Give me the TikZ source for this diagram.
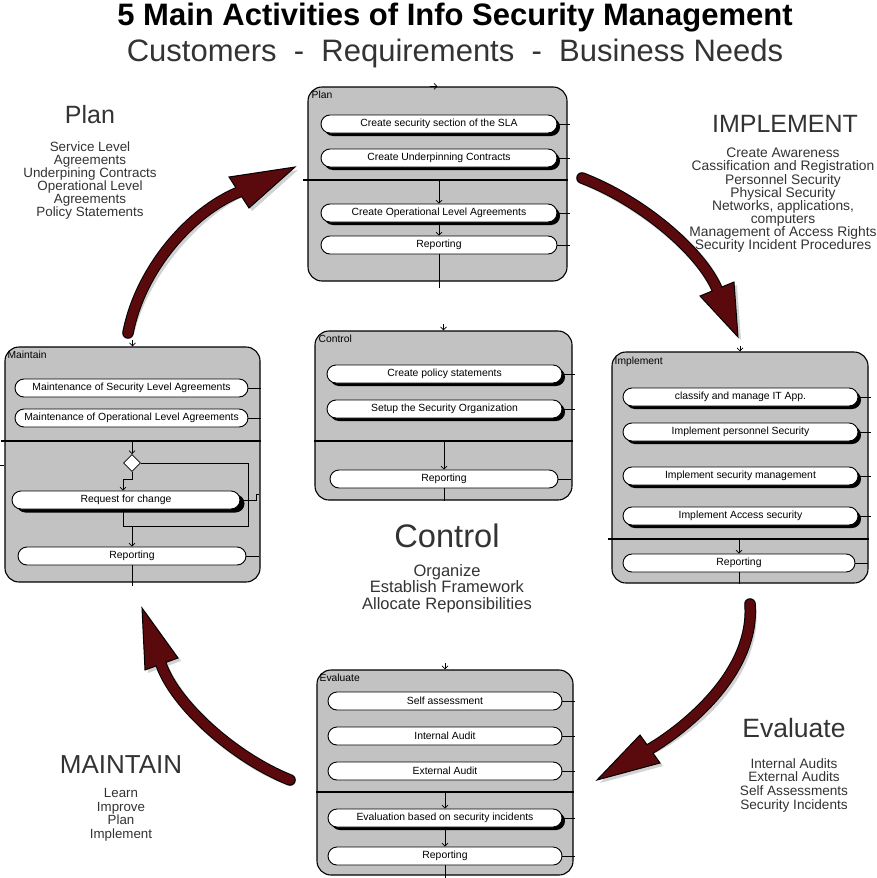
\documentclass[tikz,border=0pt]{standalone}
\usepackage{fontspec}
\setmainfont{Liberation Sans}
\usetikzlibrary{shapes.geometric,shadows,arrows.meta}
\definecolor{boxgray}{HTML}{C2C2C2}
\definecolor{arrowred}{HTML}{5A0A0C}
\definecolor{headgray}{HTML}{333333}
\newcommand{\redarrow}[7]{%
  \begin{scope}[shift={(3,3)}]
    \draw[line width=12pt, gray!35, line cap=round] #1 .. controls #2 and #3 .. #4;
    \fill[gray!35] #5 -- #6 -- #7 -- cycle;
  \end{scope}
  \draw[line width=11.5pt, black, line cap=round] #1 .. controls #2 and #3 .. #4;
  \filldraw[fill=arrowred, draw=black, line width=1pt, line join=miter] #5 -- #6 -- #7 -- cycle;
  \draw[line width=9.5pt, arrowred, line cap=round] #1 .. controls #2 and #3 .. #4;
}
\begin{document}
\begin{tikzpicture}[x=1pt,y=-1pt,
  actbox/.style={draw=black, line width=1.1pt, fill=boxgray, rounded corners=14pt, inner sep=0pt},
  boxlabel/.style={inner sep=0pt, font=\fontsize{10.3}{12}\selectfont},
  pill/.style={draw=black, line width=0.9pt, fill=white, rounded corners=9pt, minimum height=18pt, inner sep=0pt, font=\fontsize{10.4}{12}\selectfont},
  shpill/.style={pill, drop shadow={shadow xshift=3pt, shadow yshift=-3pt, fill=black, opacity=1}},
  heavypill/.style={pill, drop shadow={shadow xshift=4.5pt, shadow yshift=-3.5pt, fill=black, opacity=1}},
  sepline/.style={line width=2.2pt, black},
  thinline/.style={line width=0.7pt, black},
  flow/.style={line width=0.7pt, black, -{Straight Barb[length=3pt,width=6pt]}},
  dia/.style={diamond, draw=black, line width=0.8pt, fill=white, minimum width=17pt, minimum height=17pt, inner sep=0pt},
  bighead/.style={inner sep=0pt, text=headgray},
  items/.style={inner sep=0pt, align=center, text=headgray}
]
\useasboundingbox[fill=white] (0,0) rectangle (877,878);

% ---------- titles ----------
\node[inner sep=0pt, anchor=base, font=\fontsize{31}{34}\selectfont\bfseries] (title) at (455,25) {5 Main Activities of Info Security Management};
\node[inner sep=0pt, anchor=base, text=headgray, font=\fontsize{31}{34}\selectfont] (subtitle) at (455,61) {Customers\ \ -\ \ Requirements\ \ -\ \ Business Needs};

% ---------- side texts ----------
\node[bighead, anchor=base, font=\fontsize{25}{28}\selectfont] (planhead) at (90,123) {Plan};
\node[items, anchor=north, font=\fontsize{13.4}{13}\selectfont] (planitems) at (90,142) {Service Level\\Agreements\\Underpining Contracts\\Operational Level\\Agreements\\Policy Statements};

\node[bighead, anchor=base, font=\fontsize{25}{28}\selectfont] (implhead) at (785,132) {IMPLEMENT};
\node[items, anchor=north, font=\fontsize{13.8}{13.1}\selectfont] (implitems) at (783,148) {Create Awareness\\Cassification and Registration\\Personnel Security\\Physical Security\\Networks, applications,\\computers\\Management of Access Rights\\Security Incident Procedures};

\node[bighead, anchor=base, font=\fontsize{32.6}{35}\selectfont] (ctrlhead) at (447,547) {Control};
\node[items, anchor=north, font=\fontsize{16.5}{16.5}\selectfont] (ctrlitems) at (447,564) {Organize\\Establish Framework\\Allocate Reponsibilities};

\node[bighead, anchor=base, font=\fontsize{26.5}{29}\selectfont] (evalhead) at (794,737) {Evaluate};
\node[items, anchor=north, font=\fontsize{13.6}{13.9}\selectfont] (evalitems) at (794,758) {Internal Audits\\External Audits\\Self Assessments\\Security Incidents};

\node[bighead, anchor=base, font=\fontsize{26}{29}\selectfont] (mainthead) at (121,773) {MAINTAIN};
\node[items, anchor=north, font=\fontsize{13.3}{13.7}\selectfont] (maintitems) at (121,788) {Learn\\Improve\\Plan\\Implement};

% ---------- Plan box ----------
\node[actbox, minimum width=259pt, minimum height=194pt] (planbox) at (437.5,184) {};
\node[boxlabel, anchor=north west] (planlbl) at ([xshift=4pt,yshift=-4pt]planbox.north west) {Plan};
\node[shpill, minimum width=236pt] (pl1) at (439,124) {Create security section of the SLA};
\node[shpill, minimum width=236pt] (pl2) at (439,158) {Create Underpinning Contracts};
\draw[sepline, shorten <=-4pt] (planbox.west |- 0,180) -- (planbox.east |- 0,180);
\node[shpill, minimum width=236pt] (pl3) at (439,213) {Create Operational Level Agreements};
\node[pill, minimum width=236pt] (pl4) at (439,245) {Reporting};
\draw[flow] (pl3.north |- 0,180) -- (pl3.north);
\draw[flow] (pl3.south) -- (pl4.north);
\draw[thinline] (pl4.south) -- (pl4.south |- 0,288);
\draw[flow] ([xshift=-8pt]planbox.north) -- (planbox.north);
\foreach \n in {pl1,pl2,pl3,pl4} \draw[thinline] (\n.east) -- ++(13,0);

% ---------- Maintain box ----------
\node[actbox, minimum width=255pt, minimum height=235pt] (maintbox) at (132.5,464.5) {};
\node[boxlabel, anchor=north west] (maintlbl) at ([xshift=3pt,yshift=-4pt]maintbox.north west) {Maintain};
\node[pill, minimum width=233pt] (m1) at (131.5,388) {Maintenance of Security Level Agreements};
\node[pill, minimum width=233pt] (m2) at (131.5,418) {Maintenance of Operational Level Agreements};
\draw[sepline, shorten <=-3pt] (maintbox.west |- 0,441) -- (maintbox.east |- 0,441);
\node[dia] (mdia) at (132,463) {};
\node[heavypill, minimum width=228pt] (m3) at (126,500) {Request for change};
\node[pill, minimum width=228pt] (m4) at (132,556) {Reporting};
\coordinate (mloop) at (248,463);
\coordinate (mjoin) at (132,526);
\draw[flow] (mdia.north |- 0,441) -- (mdia.north);
\draw[flow] (mdia.south) -- ++(0,7) -| ([xshift=-3pt]m3.north);
\draw[thinline] (mdia.east) -- (mloop) |- (mjoin);
\draw[thinline] ([xshift=-3pt]m3.south) |- (mjoin);
\draw[flow] (mjoin) -- (m4.north);
\draw[thinline] (m4.south) -- (m4.south |- 0,586);
\draw[flow] ([yshift=6pt]maintbox.north) -- (maintbox.north);
\draw[thinline] (0,465) -- (maintbox.west |- 0,465);
\foreach \n in {m1,m2,m4} \draw[thinline] (\n.east) -- ++(13,0);
\draw[thinline] (m3.east) -- ++(16,0) -- ++(0,-6) -- ++(3,0);

% ---------- Control box ----------
\node[actbox, minimum width=257pt, minimum height=169pt] (ctrlbox) at (443.5,415.5) {};
\node[boxlabel, anchor=north west] (ctrllbl) at ([xshift=4pt,yshift=-4pt]ctrlbox.north west) {Control};
\node[shpill, minimum width=235pt] (c1) at (444.5,374) {Create policy statements};
\node[shpill, minimum width=235pt] (c2) at (444.5,409) {Setup the Security Organization};
\draw[sepline] (ctrlbox.west |- 0,441) -- (ctrlbox.east |- 0,441);
\node[pill, minimum width=228pt] (c3) at (444,479) {Reporting};
\draw[flow] (c3.north |- 0,441) -- (c3.north);
\draw[thinline] (c3.south) -- (c3.south |- ctrlbox.south);
\draw[flow] ([yshift=6pt]ctrlbox.north) -- (ctrlbox.north);
\foreach \n in {c1,c2,c3} \draw[thinline] (\n.east) -- ++(13,0);

% ---------- Implement box ----------
\node[actbox, minimum width=256pt, minimum height=231pt] (implbox) at (740,467.5) {};
\node[boxlabel, anchor=north west] (impllbl) at ([xshift=3pt,yshift=-5pt]implbox.north west) {Implement};
\node[shpill, minimum width=235pt] (i1) at (740.5,397) {classify and manage IT App.};
\node[shpill, minimum width=235pt] (i2) at (740.5,432) {Implement personnel Security};
\node[shpill, minimum width=235pt] (i3) at (740.5,476) {Implement security management};
\node[shpill, minimum width=235pt] (i4) at (740.5,516) {Implement Access security};
\draw[sepline, shorten <=-3pt] (implbox.west |- 0,539) -- (implbox.east |- 0,539);
\node[pill, minimum width=232pt] (i5) at (739,563) {Reporting};
\draw[flow] (i5.north |- 0,539) -- (i5.north);
\draw[thinline] (i5.south) -- (i5.south |- implbox.south);
\draw[flow] ([yshift=5pt]implbox.north) -- (implbox.north);
\foreach \n in {i1,i2,i3,i4,i5} \draw[thinline] (\n.east) -- ++(13,0);

% ---------- Evaluate box ----------
\node[actbox, minimum width=256pt, minimum height=205pt] (evalbox) at (445,772.5) {};
\node[boxlabel, anchor=north west] (evallbl) at ([xshift=3pt,yshift=-4pt]evalbox.north west) {Evaluate};
\node[pill, minimum width=234pt] (e1) at (445,701) {Self assessment};
\node[pill, minimum width=234pt] (e2) at (445,736) {Internal Audit};
\node[pill, minimum width=234pt] (e3) at (445,771) {External Audit};
\draw[sepline] (evalbox.west |- 0,792) -- (evalbox.east |- 0,792);
\node[shpill, minimum width=234pt] (e4) at (445,818) {Evaluation based on security incidents};
\node[pill, minimum width=234pt] (e5) at (445,856) {Reporting};
\draw[flow] (e4.north |- 0,792) -- (e4.north);
\draw[flow] (e4.south) -- (e5.north);
\draw[thinline] (e5.south) -- (e5.south |- 0,878);
\draw[flow] ([yshift=6pt]evalbox.north) -- (evalbox.north);
\foreach \n in {e1,e2,e3,e4,e5} \draw[thinline] (\n.east) -- ++(13,0);

% ---------- big cycle arrows ----------
\coordinate (a1t) at (128,333);
\coordinate (a1b) at (239,192);
\redarrow{(a1t)}{(140,270)}{(190,212)}{(a1b)}{(229,177)}{(295,167)}{(249,208)}

\coordinate (a2t) at (582,178);
\coordinate (a2b) at (717,289);
\redarrow{(a2t)}{(640,200)}{(700,250)}{(a2b)}{(700,296)}{(738,337)}{(734,282)}

\coordinate (a3t) at (750,604);
\coordinate (a3b) at (650,749);
\redarrow{(a3t)}{(755,670)}{(690,725)}{(a3b)}{(640,735)}{(597,780)}{(660,763)}

\coordinate (a4t) at (290,780);
\coordinate (a4b) at (161,664);
\redarrow{(a4t)}{(235,758)}{(175,705)}{(a4b)}{(145,670)}{(142,608)}{(178,658)}
\end{tikzpicture}
\end{document}
